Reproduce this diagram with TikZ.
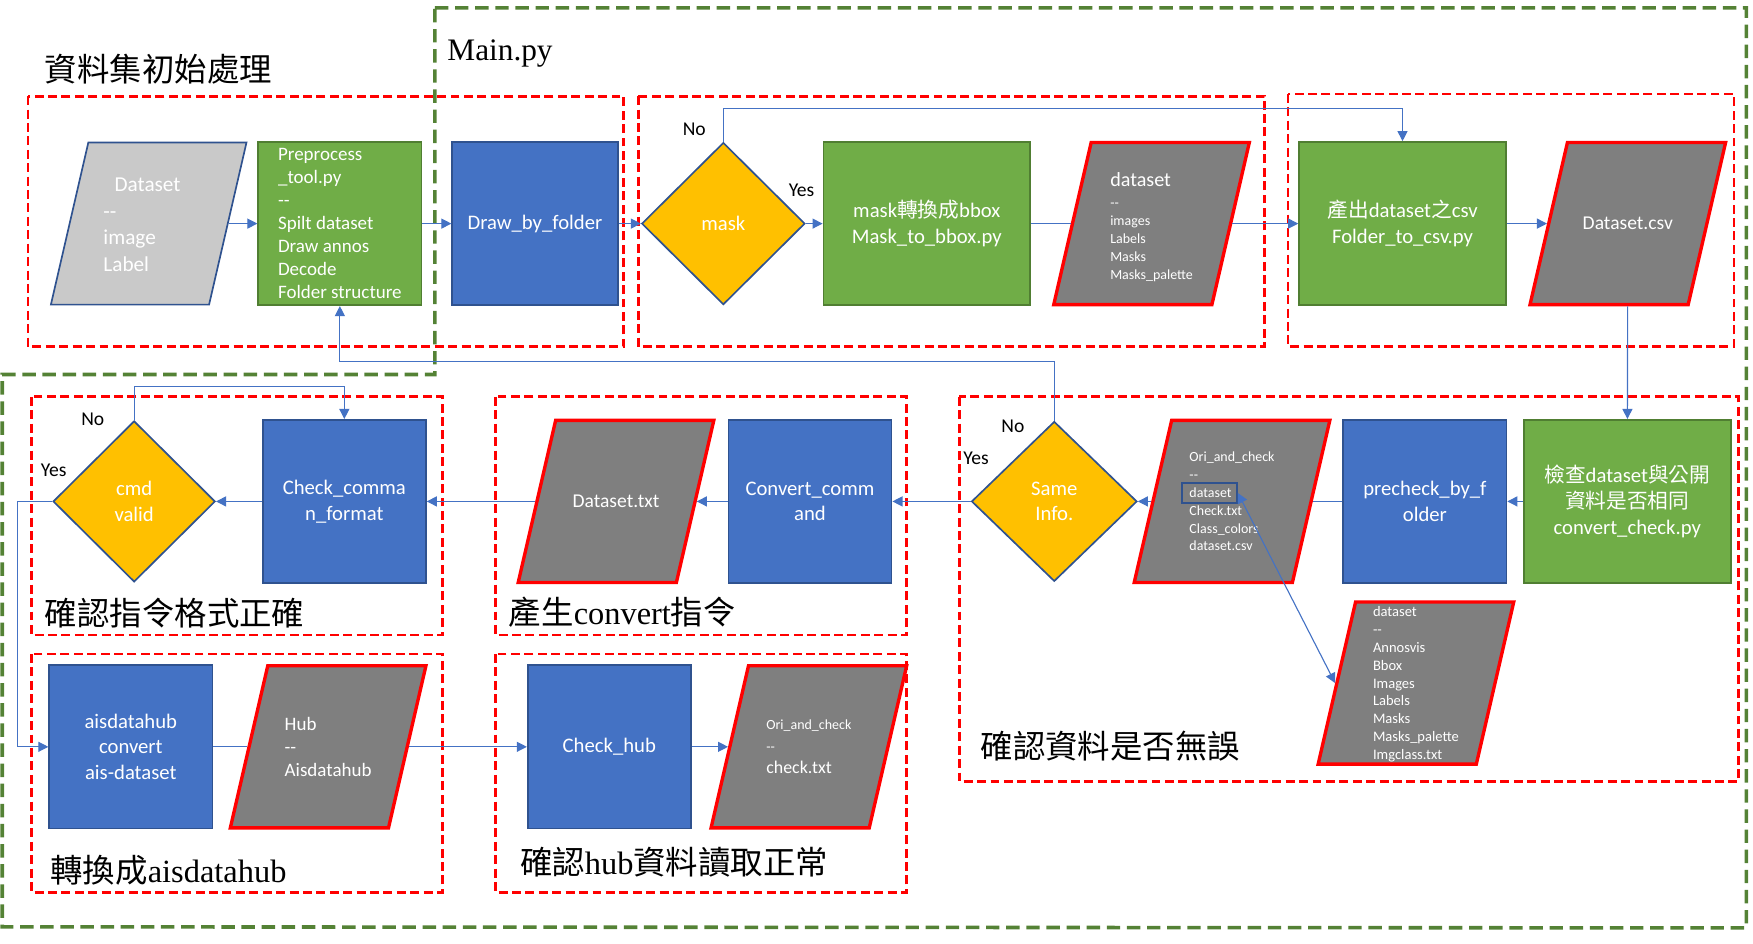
\documentclass[tikz,border=0pt]{standalone}
\usepackage{fontspec}
\setmainfont{Liberation Serif}
\newfontfamily\boxfont{Carlito}
\newfontfamily\cjkfont{Noto Sans CJK TC}
\usetikzlibrary{positioning,shapes.geometric,arrows.meta}

\definecolor{procblue}{HTML}{4472C4}
\definecolor{edgeblue}{HTML}{2F528F}
\definecolor{toolgreen}{HTML}{70AD47}
\definecolor{edgegreen}{HTML}{507E32}
\definecolor{gold}{HTML}{FFC000}
\definecolor{filegray}{HTML}{7F7F7F}
\definecolor{rawgray}{HTML}{C9C9C9}
\definecolor{framegreen}{HTML}{548235}

\newcommand{\zh}[1]{{\cjkfont #1}}

\begin{document}
\begin{tikzpicture}[
x=1pt, y=-1pt,
>={Triangle[length=9pt,width=9pt]},
bluenode/.style={rectangle, draw=edgeblue, fill=procblue, line width=1.5pt, minimum width=146pt, minimum height=146pt, inner sep=1pt, text=white, align=center, font=\boxfont\fontsize{18.5}{23}\selectfont},
greennode/.style={bluenode, draw=edgegreen, fill=toolgreen},
widenode/.style={greennode, minimum width=185pt},
choicenode/.style={diamond, draw=edgeblue, fill=gold, line width=1.5pt, minimum width=146pt, minimum height=145pt, inner sep=0pt, text=white, align=center, font=\boxfont\fontsize{18.5}{23}\selectfont},
filenode/.style={trapezium, trapezium left angle=77, trapezium right angle=103, draw=red, fill=filegray, line width=3pt, inner xsep=54pt, inner ysep=72.5pt},
rawnode/.style={filenode, draw=edgeblue, fill=rawgray, line width=1.5pt},
filetext/.style={inner sep=0pt, text=white, align=left, font=\boxfont\fontsize{17.5}{22}\selectfont},
tagnode/.style={rectangle, draw=edgeblue, line width=1.5pt, minimum width=49pt, minimum height=18pt},
flowline/.style={draw=procblue, line width=1pt},
redframe/.style={draw=red, line width=2.5pt, dash pattern=on 8pt off 4pt},
greenframe/.style={draw=framegreen, line width=3.2pt, dash pattern=on 12pt off 6pt},
titletext/.style={anchor=west, inner sep=0pt, font=\fontsize{29}{34}\selectfont},
yesno/.style={inner sep=0pt, font=\boxfont\fontsize{17.5}{20}\selectfont},
]
\useasboundingbox (0,0) rectangle (1568,844);

%Frames
\draw[redframe] (25,86) rectangle (558,310);
\draw[redframe] (571,86) rectangle (1131,310);
\draw[redframe] (1152,84) rectangle (1551,310);
\draw[redframe] (28,355) rectangle (396,568);
\draw[redframe] (443,355) rectangle (811,568);
\draw[redframe] (858,355) rectangle (1555,699);
\draw[redframe] (28,585) rectangle (396,798);
\draw[redframe] (443,585) rectangle (811,798);
\draw[greenframe] (389,7) -- (1562,7) -- (1562,830) -- (2,829) -- (2,335) -- (389,335) -- cycle;

%Titles
\node[titletext] (tinit) at (40,62) {\zh{資料集初始處理}};
\node[titletext, font=\fontsize{28}{32}\selectfont] (tmain) at (400,48) {Main.py};
\node[titletext] (tcmd) at (40,548) {\zh{確認指令格式正確}};
\node[titletext] (tconv) at (455,548) {\zh{產生}convert\zh{指令}};
\node[titletext] (tcheck) at (877,667) {\zh{確認資料是否無誤}};
\node[titletext] (thubc) at (45,778) {\zh{轉換成}aisdatahub};
\node[titletext] (thub) at (465,771) {\zh{確認}hub\zh{資料讀取正常}};

%Nodes, first row
\node[rawnode] (dsin) at (133,200) {};
\node[filetext, font=\boxfont\fontsize{19}{23.7}\selectfont] (dsintext) at ([shift={(-6,1)}]dsin.center) {\hspace*{10pt}Dataset\\-{}-\\image\\Label};
\node[greennode, align=left, font=\boxfont\fontsize{17}{20.6}\selectfont] (prep) at (304,200) {Preprocess\\\_tool.py\\-{}-\\Spilt dataset\\Draw annos\\Decode\\Folder structure};
\node[bluenode, minimum width=148pt] (drawf) [right=26pt of prep] {Draw\_by\_folder};
\node[choicenode] (mask) [right=20pt of drawf] {mask};
\node[widenode] (m2b) [right=15pt of mask] {mask\zh{轉換成}bbox\\Mask\_to\_bbox.py};
\node[filenode] (dsmask) at (1030,200) {};
\node[filetext, font=\boxfont\fontsize{12.5}{16}\selectfont] (dsmasktext) at ([shift={(0,3)}]dsmask.center) {{\fontsize{18}{18}\selectfont dataset}\\[3pt]--\\images\\Labels\\Masks\\Masks\_palette};
\node[widenode] (csvgen) at (1254.5,200) {\zh{產出}dataset\zh{之}csv\\Folder\_to\_csv.py};
\node[filenode] (csv) at (1456,200) {};
\node[filetext] (csvtext) at (csv.center) {Dataset.csv};

%Nodes, second row
\node[widenode] (chk) at (1455.5,448.5) {\zh{檢查}dataset\zh{與公開}\\\zh{資料是否相同}\\convert\_check.py};
\node[bluenode] (prechk) [left=14pt of chk] {precheck\_by\_f\\older};
\node[filenode] (oac) at (1102,448.5) {};
\node[filetext, font=\boxfont\fontsize{12.5}{16}\selectfont] (oactext) at (oac.center) {Ori\_and\_check\\-{}-\\dataset\\Check.txt\\Class\_colors\\dataset.csv};
\node[tagnode] (tag) at ([shift={(-20,-7.5)}]oac.center) {};
\node[choicenode, minimum width=148pt, minimum height=143pt] (same) at (943,448.5) {Same\\Info.};
\node[bluenode] (conv) [left=70pt of same] {Convert\_comm\\and};
\node[filenode] (dstxt) at (551,448.5) {};
\node[filetext] (dstxttext) at (dstxt.center) {Dataset.txt};
\node[bluenode] (chkcmd) at (308,448.5) {Check\_comma\\n\_format};
\node[choicenode, minimum width=145pt, minimum height=144pt] (cmdv) [left=41pt of chkcmd] {cmd\\valid};
\node[filenode] (dsnew) at (1266.5,611) {};
\node[filetext, font=\boxfont\fontsize{13}{16}\selectfont] (dsnewtext) at ([shift={(0,1)}]dsnew.center) {dataset\\-{}-\\Annosvis\\Bbox\\Images\\Labels\\Masks\\Masks\_palette\\Imgclass.txt};

%Nodes, third row
\node[bluenode] (ais) at (117,668) {aisdatahub\\convert\\ais-dataset};
\node[filenode] (hub) at (293.5,668) {};
\node[filetext, font=\boxfont\fontsize{17}{20.5}\selectfont] (hubtext) at (hub.center) {Hub\\-{}-\\Aisdatahub};
\node[bluenode] (chkhub) at (545,668) {Check\_hub};
\node[filenode] (oac2) at (723.5,668) {};
\node[filetext, font=\boxfont\fontsize{12.5}{19.5}\selectfont] (oac2text) at (oac2.center) {Ori\_and\_check\\-{}-\\{\fontsize{16}{16}\selectfont check.txt}};

%Yes / No
\node[yesno] (maskno) at (621,116) {No};
\node[yesno] (maskyes) at (717,170) {Yes};
\node[yesno] (cmdno) at (83,375) {No};
\node[yesno] (cmdyes) at (48,421) {Yes};
\node[yesno] (sameno) at (906,381) {No};
\node[yesno] (sameyes) at (873,410) {Yes};

%Lines
\draw[flowline,->] (dsin) -- (prep);
\draw[flowline,->] (prep) -- (drawf);
\draw[flowline,->] (drawf) -- (mask);
\draw[flowline,->] (mask) -- (m2b);
\draw[flowline] (m2b) -- (dsmask);
\draw[flowline,->] (dsmask) -- (csvgen);
\draw[flowline,->] (mask.north) -- ++(0,-30) -| (csvgen.north);
\draw[flowline,->] (csvgen) -- (csv);
\draw[flowline,->] (csv) -- (chk);

\draw[flowline,->] (chk) -- (prechk);
\draw[flowline] (prechk) -- (oac);
\draw[flowline,->] (oac) -- (same);
\draw[flowline,->] (same.north) -- ++(0,-53) -| (prep.south);
\draw[flowline,->] (same) -- (conv);
\draw[flowline,->] (conv) -- (dstxt);
\draw[flowline,->] (dstxt) -- (chkcmd);
\draw[flowline,->] (chkcmd) -- (cmdv);
\draw[flowline,->] (cmdv.north) -- ++(0,-30) -| (chkcmd.north);
\draw[flowline,<->] (tag.east) -- (dsnew.west);

\draw[flowline,->] (cmdv.west) -- ++(-31,0) |- (ais.west);
\draw[flowline] (ais) -- (hub);
\draw[flowline,->] (hub) -- (chkhub);
\draw[flowline,->] (chkhub) -- (oac2);

\end{tikzpicture}
\end{document}
